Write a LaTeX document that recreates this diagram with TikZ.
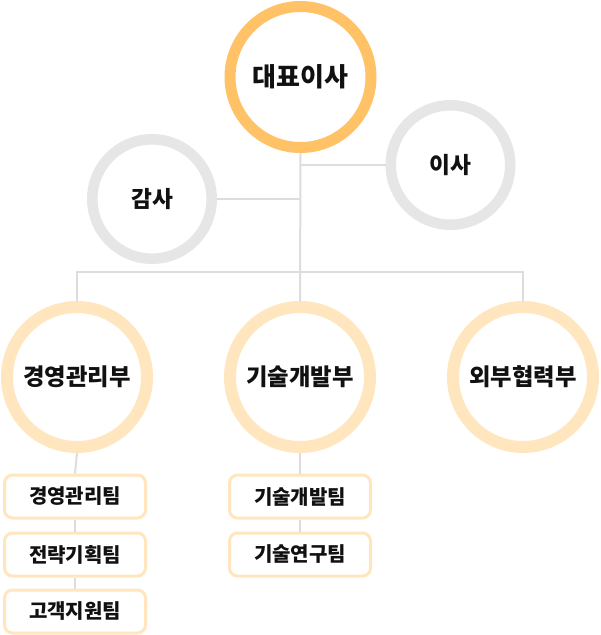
\documentclass[tikz,border=0pt]{standalone}
\usepackage{fontspec}
\newfontfamily\kr{Noto Sans CJK KR}
\definecolor{ceoC}{HTML}{FFC266}
\definecolor{deptC}{HTML}{FFE6BF}
\definecolor{grayC}{HTML}{E6E6E6}
\definecolor{lineC}{HTML}{DDDDDD}
\definecolor{txtC}{HTML}{111111}
\begin{document}
\begin{tikzpicture}[x=0.75pt,y=-0.75pt,
  ringbase/.style={circle, draw, fill=white, inner sep=0pt, text=txtC},
  ceoring/.style={ringbase, draw=ceoC, line width=8.25pt, minimum size=105.75pt, font=\kr\bfseries\fontsize{19.5pt}{21pt}\selectfont},
  grayring/.style={ringbase, draw=grayC, line width=7.9pt, minimum size=89.6pt, font=\kr\bfseries\fontsize{17pt}{19pt}\selectfont},
  deptring/.style={ringbase, draw=deptC, line width=9pt, minimum size=105pt, font=\kr\bfseries\fontsize{17.5pt}{19pt}\selectfont},
  teambox/.style={rectangle, rounded corners=6pt, draw=deptC, line width=2.25pt, fill=white, minimum width=105.75pt, minimum height=32.25pt, inner sep=0pt, text=txtC, font=\kr\bfseries\fontsize{15pt}{17pt}\selectfont},
  conn/.style={draw=lineC, line width=1.5pt}
]
\useasboundingbox (0,0) rectangle (600,635);
% nodes
\node[ceoring] (ceo) at (300.5,77) {대표이사};
\node[grayring] (gamsa) at (152,199) {감사};
\node[grayring] (isa) at (450.5,165) {이사};
\node[deptring] (mgmt) at (77,377) {경영관리부};
\node[deptring] (dev) at (300,377) {기술개발부};
\node[deptring] (ext) at (523,377) {외부협력부};
\node[teambox] (t1) at (75,496.5) {경영관리팀};
\node[teambox] (t2) at (75,554.5) {전략기획팀};
\node[teambox] (t3) at (75,611.5) {고객지원팀};
\node[teambox] (t4) at (300,496.5) {기술개발팀};
\node[teambox] (t5) at (300,554.5) {기술연구팀};
% junctions
\coordinate (j1) at (300,165);
\coordinate (j2) at (300,199);
\coordinate (bl) at (77,272);
\coordinate (br) at (523,272);
% connectors
\draw[conn] (ceo.south) -- (dev.north);
\draw[conn] (j1) -- (isa.west);
\draw[conn] (gamsa.east) -- (j2);
\draw[conn] (mgmt.north) -- (bl) -- (br) -- (ext.north);
\draw[conn] (mgmt.south) -- (t1.north);
\draw[conn] (t1.south) -- (t2.north);
\draw[conn] (t2.south) -- (t3.north);
\draw[conn] (dev.south) -- (t4.north);
\draw[conn] (t4.south) -- (t5.north);
\end{tikzpicture}
\end{document}
